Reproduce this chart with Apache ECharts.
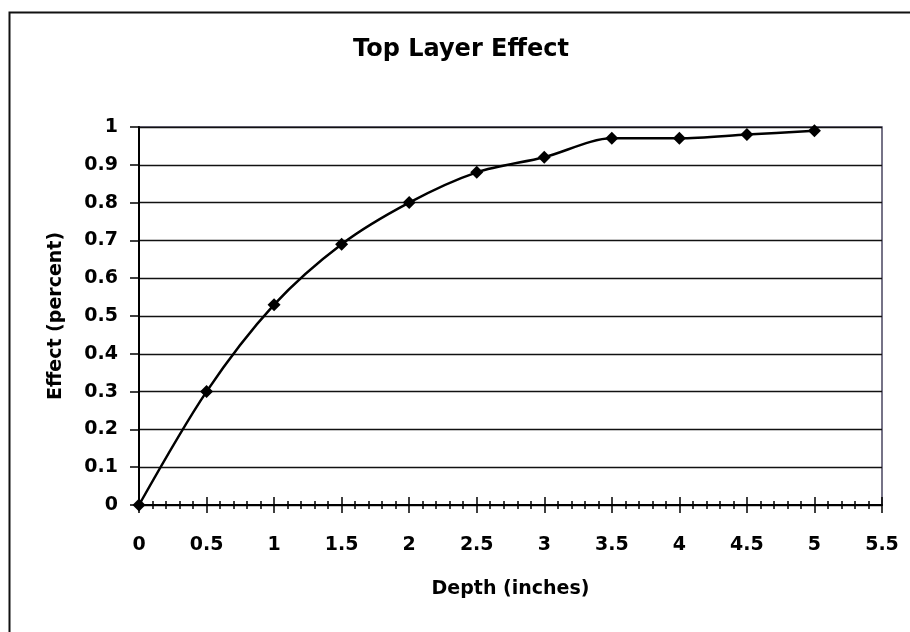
<!DOCTYPE html>
<html>
<head>
<meta charset="utf-8">
<script src="https://cdn.jsdelivr.net/npm/echarts@6/dist/echarts.min.js"></script>
<style>
html,body{margin:0;padding:0;background:#fff;}
#chart{width:910px;height:632px;}
</style>
</head>
<body>
<div id="chart"></div>
<script>
const titleText = 'Top Layer Effect';
const xName = 'Depth (inches)';
const yName = 'Effect (percent)';
const depth = [0, 0.5, 1, 1.5, 2, 2.5, 3, 3.5, 4, 4.5, 5];
const effect = [0, 0.30, 0.53, 0.69, 0.80, 0.88, 0.92, 0.97, 0.97, 0.98, 0.99];

const FONT = '"DejaVu Sans", "Liberation Sans", Arial, sans-serif';
const chart = echarts.init(document.getElementById('chart'), null, {renderer: 'canvas'});

const xCommon = {
  type: 'value', min: 0, max: 5.5, interval: 0.5, position: 'bottom',
  splitLine: {show: false}, minorSplitLine: {show: false}
};

chart.setOption({
  animation: false,
  backgroundColor: '#fff',
  title: {
    text: titleText, left: 348, top: 33,
    textStyle: {fontFamily: FONT, fontWeight: 'bold', fontSize: 24, color: '#000'}
  },
  graphic: [{
    type: 'rect', left: 7, top: 10, silent: true,
    shape: {width: 1000, height: 1000},
    style: {fill: 'none', stroke: '#111', lineWidth: 2}
  }],
  grid: {
    left: 139, right: 28, top: 127, bottom: 127,
    show: true, borderColor: '#4a4660', borderWidth: 1.5, backgroundColor: 'transparent'
  },
  xAxis: [
    Object.assign({}, xCommon, {
      name: xName, nameLocation: 'middle', nameGap: 75,
      nameTextStyle: {fontFamily: FONT, fontWeight: 'bold', fontSize: 19, color: '#000'},
      axisLine: {show: true, onZero: false, lineStyle: {color: '#000', width: 2}},
      axisTick: {show: true, inside: false, length: 8, lineStyle: {color: '#000', width: 1.5}},
      minorTick: {show: true, splitNumber: 5, length: 4, lineStyle: {color: '#000', width: 1.5}},
      axisLabel: {margin: 31, fontFamily: FONT, fontWeight: 'bold', fontSize: 19, color: '#000',
        formatter: v => String(v)}
    }),
    Object.assign({}, xCommon, {
      axisLine: {show: false},
      axisTick: {show: true, inside: true, length: 8, lineStyle: {color: '#000', width: 1.5}},
      minorTick: {show: true, splitNumber: 5, length: 4, lineStyle: {color: '#000', width: 1.5}},
      axisLabel: {show: false}
    })
  ],
  yAxis: {
    type: 'value', min: 0, max: 1, interval: 0.1,
    name: yName, nameLocation: 'middle', nameGap: 73, nameRotate: 90,
    nameTextStyle: {fontFamily: FONT, fontWeight: 'bold', fontSize: 19, color: '#000'},
    axisLine: {show: true, onZero: false, lineStyle: {color: '#000', width: 2}},
    axisTick: {show: true, inside: false, length: 9, lineStyle: {color: '#000', width: 1.5}},
    axisLabel: {margin: 21, fontFamily: FONT, fontWeight: 'bold', fontSize: 19, color: '#000',
      formatter: v => String(Math.round(v * 10) / 10)},
    splitLine: {show: true, lineStyle: {color: '#111', width: 1.4}}
  },
  series: [{
    type: 'line',
    xAxisIndex: 0,
    data: depth.map((d, i) => [d, effect[i]]),
    smooth: 0.3,
    symbol: 'diamond', symbolSize: 13,
    itemStyle: {color: '#000'},
    lineStyle: {color: '#000', width: 2.5}
  }]
});
</script>
</body>
</html>
